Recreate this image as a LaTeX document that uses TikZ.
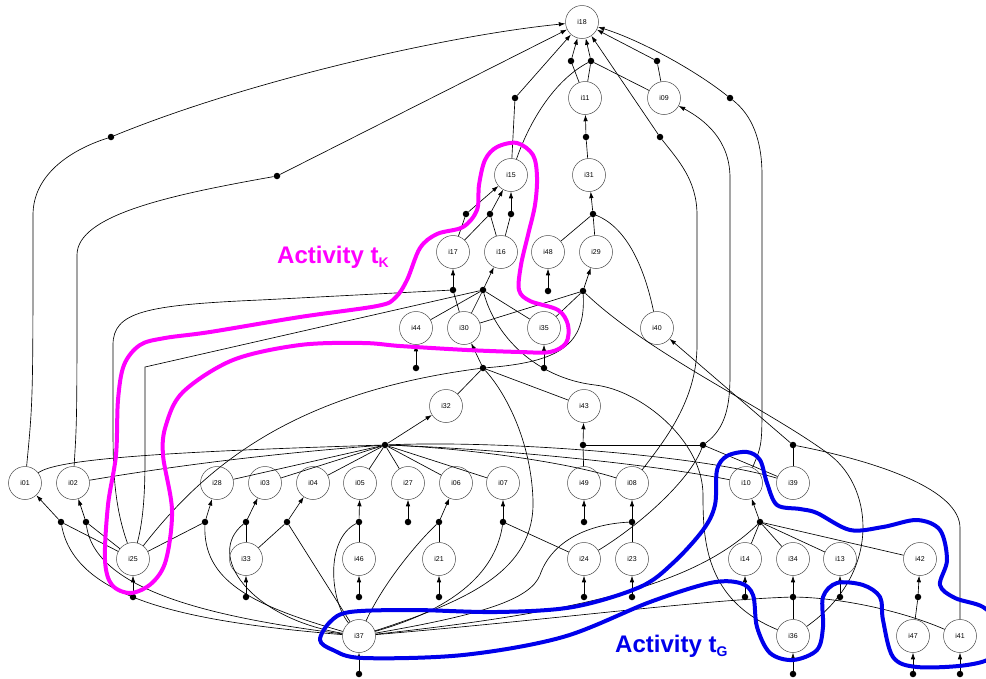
\documentclass[tikz,border=0pt]{standalone}
\usepackage{fontspec}
\setmainfont{Liberation Sans}
\usetikzlibrary{arrows.meta}
\definecolor{hullK}{RGB}{255,0,255}
\definecolor{hullG}{RGB}{0,0,235}
\begin{document}
\begin{tikzpicture}[x=1pt,y=-1pt,
  st/.style={circle,draw=black!70,fill=white,line width=0.5pt,minimum size=33pt,inner sep=0pt,font=\fontsize{7}{8}\selectfont},
  jd/.style={circle,fill=black,inner sep=0pt,minimum size=6.5pt},
  ln/.style={line width=0.65pt},
  ar/.style={ln,-{Latex[length=6.5pt,width=4.5pt]}},
  hull/.style={line width=4pt,line join=round},
  lab/.style={font=\fontsize{24}{24}\selectfont\bfseries,anchor=base west,inner sep=0pt}
]
\useasboundingbox (0,0) rectangle (986,678);
\clip (0,0) rectangle (986,678);

% places
\foreach \n/\x/\y in {i18/582/22,i11/585/98,i09/664/98,i15/511/175,i31/589/175,
  i17/453/252,i16/501/252,i48/548/252,i29/596/252,
  i44/416/328,i30/464/328,i35/544/328,i40/657/328,
  i32/446/406,i43/584/406,
  i01/25/483,i02/73/483,i28/217/483,i03/265/483,i04/313/483,i05/360/483,i27/408/483,
  i06/456/483,i07/503/483,i49/584/483,i08/632/483,i10/746/483,i39/793/483,
  i25/133/559,i33/246/559,i46/359/559,i21/439/559,i24/584/559,i23/632/559,
  i14/745/559,i34/793/559,i13/840/559,i42/920/559,
  i37/359/636,i36/793/636,i47/913/636,i41/960/636}
  \node[st] (\n) at (\x,\y) {\n};

% junction points
\foreach \n/\x/\y in {dA/111/137,dB/277/176,dC/515/98,dD/571/61,dE/591/61,dF/657/61,
  dG/730/98,dH/660/137,dI/586/137,dJ/593/214,dK1/466/214,dK2/490/214,dK3/511/214,
  dL/453/290,dM/483/290,dN/548/291,dO/583/291,dP/483/368,dQ/416/368,dR/544/368,
  hub/385/445,dS/583/445,dT/703/445,dU/793/445,
  d01/61/522,d02/86/522,d28/205/522,d03/246/522,d04/287/522,d05/359/522,d27/408/522,
  d06/439/522,d07/503/522,d49/584/522,d08/632/522,d10/760/522,
  d25/133/597,d33/246/597,d46/359/597,d21/439/597,d24/584/597,d23/632/597,
  d14/745/597,d34/793/597,d13/840/597,d42/918/597,
  d37/359/674,d36/793/674,d47/913/674,d41/960/674}
  \node[jd] (\n) at (\x,\y) {};

% edges into i18
\draw[ln] (i01) .. controls (33,400) .. (33,215) .. controls (33,175) and (70,150) .. (dA);
\draw[ar] (dA) .. controls (250,80) and (450,35) .. (i18);
\draw[ln] (i02) .. controls (77,420) .. (77,255) .. controls (77,215) and (170,195) .. (dB);
\draw[ar] (dB) -- (i18);
\draw[ln] (i15) -- (dC); \draw[ar] (dC) -- (i18);
\draw[ln] (i11) -- (dD); \draw[ar] (dD) -- (i18);
\draw[ln] (i11) -- (dE); \draw[ln] (i09) -- (dE);
\draw[ln] (i15) .. controls (530,120) and (555,80) .. (dE);
\draw[ar] (dE) -- (i18);
\draw[ln] (i09) -- (dF); \draw[ar] (dF) -- (i18);
\draw[ln] (i10) .. controls (762,445) .. (762,400) -- (762,175) .. controls (762,140) and (752,115) .. (dG);
\draw[ar] (dG) .. controls (695,70) and (640,40) .. (i18);
\draw[ln] (i08) .. controls (665,440) and (697,400) .. (697,345) -- (697,215) .. controls (697,180) and (678,160) .. (dH);
\draw[ar] (dH) -- (i18);

% i11, i31
\draw[ln] (i31) -- (dI); \draw[ar] (dI) -- (i11);
\draw[ln] (i48) -- (dJ); \draw[ln] (i29) -- (dJ);
\draw[ln] (i40) .. controls (645,270) and (628,228) .. (dJ);
\draw[ar] (dJ) -- (i31);

% i15
\draw[ln] (i17) -- (dK1); \draw[ar] (dK1) -- (i15);
\draw[ln] (i17) -- (dK2); \draw[ln] (i16) -- (dK2); \draw[ar] (dK2) -- (i15);
\draw[ln] (i16) -- (dK3); \draw[ar] (dK3) -- (i15);

% i17, i16
\draw[ln] (i30) -- (dL); \draw[ar] (dL) -- (i17);
\draw[ln] (i25) .. controls (114,505) and (113,470) .. (113,425) -- (113,345) .. controls (113,312) and (145,305) .. (260,300) -- (dL);
\draw[ln] (i25) .. controls (146,510) and (145,470) .. (145,430) -- (145,367) -- (dM);
\draw[ln] (i44) -- (dM); \draw[ln] (i30) -- (dM); \draw[ln] (i35) -- (dM);
\draw[ln] (i36) .. controls (705,600) and (703,540) .. (703,495) .. controls (703,440) and (640,390) .. (595,385) .. controls (535,378) and (495,335) .. (dM);
\draw[ar] (dM) -- (i16);
\draw[ar] (dN) -- (i48);
\draw[ar] (dQ) -- (i44);
\draw[ar] (dR) -- (i35);

% i29
\draw[ln] (i35) -- (dO); \draw[ln] (i30) -- (dO); \draw[ar] (dO) -- (i29);
\draw[ln] (dO) .. controls (650,355) and (770,410) .. (830,455) .. controls (875,490) and (880,575) .. (i36);
\draw[ln] (dO) .. controls (586,345) and (560,362) .. (dP);

% i30
\draw[ln] (i32) -- (dP); \draw[ln] (i43) -- (dP); \draw[ar] (dP) -- (i30);
\draw[ln] (i25) .. controls (210,460) and (300,392) .. (dP);
\draw[ln] (i37) .. controls (470,600) and (535,570) .. (533,500) .. controls (531,440) and (505,392) .. (dP);

% i32
\draw[ar] (hub) -- (i32);
\foreach \n in {i28,i03,i04,i05,i27,i06,i07} \draw[ln] (\n) -- (hub);
\draw[ln] (i01) .. controls (55,460) and (150,452) .. (hub);
\draw[ln] (i02) .. controls (150,470) and (250,455) .. (hub);
\draw[ln] (i08) .. controls (560,460) and (450,447) .. (hub);
\draw[ln] (i10) .. controls (640,462) and (480,448) .. (hub);
\draw[ln] (i39) .. controls (700,455) and (500,440) .. (hub);

% i43, i09, i40
\draw[ln] (i49) -- (dS); \draw[ar] (dS) -- (i43);
\draw[ln] (dS) -- (dT);
\draw[ln] (i39) -- (dT);
\draw[ln] (i24) .. controls (640,525) and (690,480) .. (dT);
\draw[ar] (dT) .. controls (726,428) and (730,405) .. (730,375) -- (730,178) .. controls (730,140) and (705,120) .. (i09);
\draw[ln] (i39) -- (dU);
\draw[ln] (i41) -- (960,528) .. controls (960,490) and (880,462) .. (dU);
\draw[ar] (dU) -- (i40);

% second row targets
\draw[ln] (i25) -- (d01); \draw[ar] (d01) -- (i01);
\draw[ln] (i25) -- (d02); \draw[ar] (d02) -- (i02);
\draw[ln] (i25) -- (d28); \draw[ar] (d28) -- (i28);
\draw[ln] (i37) .. controls (190,622) and (75,600) .. (d01);
\draw[ln] (i37) .. controls (210,617) and (95,590) .. (d02);
\draw[ln] (i37) .. controls (250,605) and (203,580) .. (d28);
\draw[ln] (i37) .. controls (250,618) and (205,555) .. (d03);
\draw[ln] (i33) -- (d03); \draw[ar] (d03) -- (i03);
\draw[ln] (i33) -- (d04); \draw[ar] (d04) -- (i04);
\draw[ln] (i37) -- (d04);
\draw[ln] (i46) -- (d05); \draw[ar] (d05) -- (i05);
\draw[ln] (i37) .. controls (330,600) and (325,540) .. (d05);
\draw[ar] (d27) -- (i27);
\draw[ln] (i21) -- (d06); \draw[ar] (d06) -- (i06);
\draw[ln] (i37) .. controls (385,580) and (420,540) .. (d06);
\draw[ln] (i24) -- (d07); \draw[ar] (d07) -- (i07);
\draw[ln] (i37) .. controls (450,610) and (495,575) .. (d07);
\draw[ar] (d49) -- (i49);
\draw[ln] (i23) -- (d08); \draw[ar] (d08) -- (i08);
\draw[ln] (i37) .. controls (480,615) and (530,600) .. (540,575) .. controls (552,540) and (590,524) .. (d08);
\foreach \n in {i14,i34,i13,i42} \draw[ln] (\n) -- (d10);
\draw[ar] (d10) -- (i10);
\draw[ln] (i37) .. controls (600,610) and (700,580) .. (d10);

% third row targets
\foreach \a/\b in {d25/i25,d33/i33,d46/i46,d21/i21,d24/i24,d23/i23,d14/i14,d13/i13,
  d37/i37,d36/i36,d47/i47,d41/i41}
  \draw[ar] (\a) -- (\b);
\draw[ln] (i36) -- (d34); \draw[ar] (d34) -- (i34);
\draw[ln] (i37) .. controls (550,620) and (700,600) .. (d34);
\draw[ln] (i41) .. controls (900,610) and (840,598) .. (d34);
\draw[ln] (i47) -- (d42); \draw[ar] (d42) -- (i42);

% activity outlines
\draw[hull,hullK] plot[smooth cycle,tension=0.55] coordinates {
  (517,143) (533,155) (537,177) (535,205) (528,235) (521,265) (519,290) (530,301)
  (558,310) (568,325) (566,343) (550,352) (520,352) (467,350) (400,346) (363,343)
  (300,345) (233,360) (183,392) (166,425) (163,455) (172,510) (166,560) (152,583)
  (131,593) (112,585) (105,560) (108,505) (116,455) (118,400) (124,365) (140,345)
  (165,338) (210,332) (300,317) (377,306) (395,298) (407,280) (420,248) (437,234)
  (463,227) (477,210) (479,185) (485,160) (497,147)};
\draw[hull,hullG] plot[smooth cycle,tension=0.55] coordinates {
  (320,640) (330,622) (350,612) (413,610) (497,612) (573,607) (640,587) (673,563)
  (703,530) (715,505) (717,470) (727,456) (747,452) (760,460) (767,483) (777,505)
  (800,509) (817,513) (850,530) (883,527) (917,520) (940,530) (947,560) (940,585)
  (955,598) (983,607) (998,625) (994,655) (967,665) (917,667) (893,657) (883,620)
  (880,597) (863,585) (837,583) (823,597) (823,627) (817,650) (793,660) (770,653)
  (757,627) (753,595) (740,583) (710,583) (650,602) (563,637) (463,655) (363,658)
  (333,650)};

\node[lab,text=hullK] (tk) at (277,263) {Activity t\raisebox{-4pt}{\fontsize{14}{14}\selectfont K}};
\node[lab,text=hullG] (tg) at (615,652) {Activity t\raisebox{-4pt}{\fontsize{14}{14}\selectfont G}};
\end{tikzpicture}
\end{document}
